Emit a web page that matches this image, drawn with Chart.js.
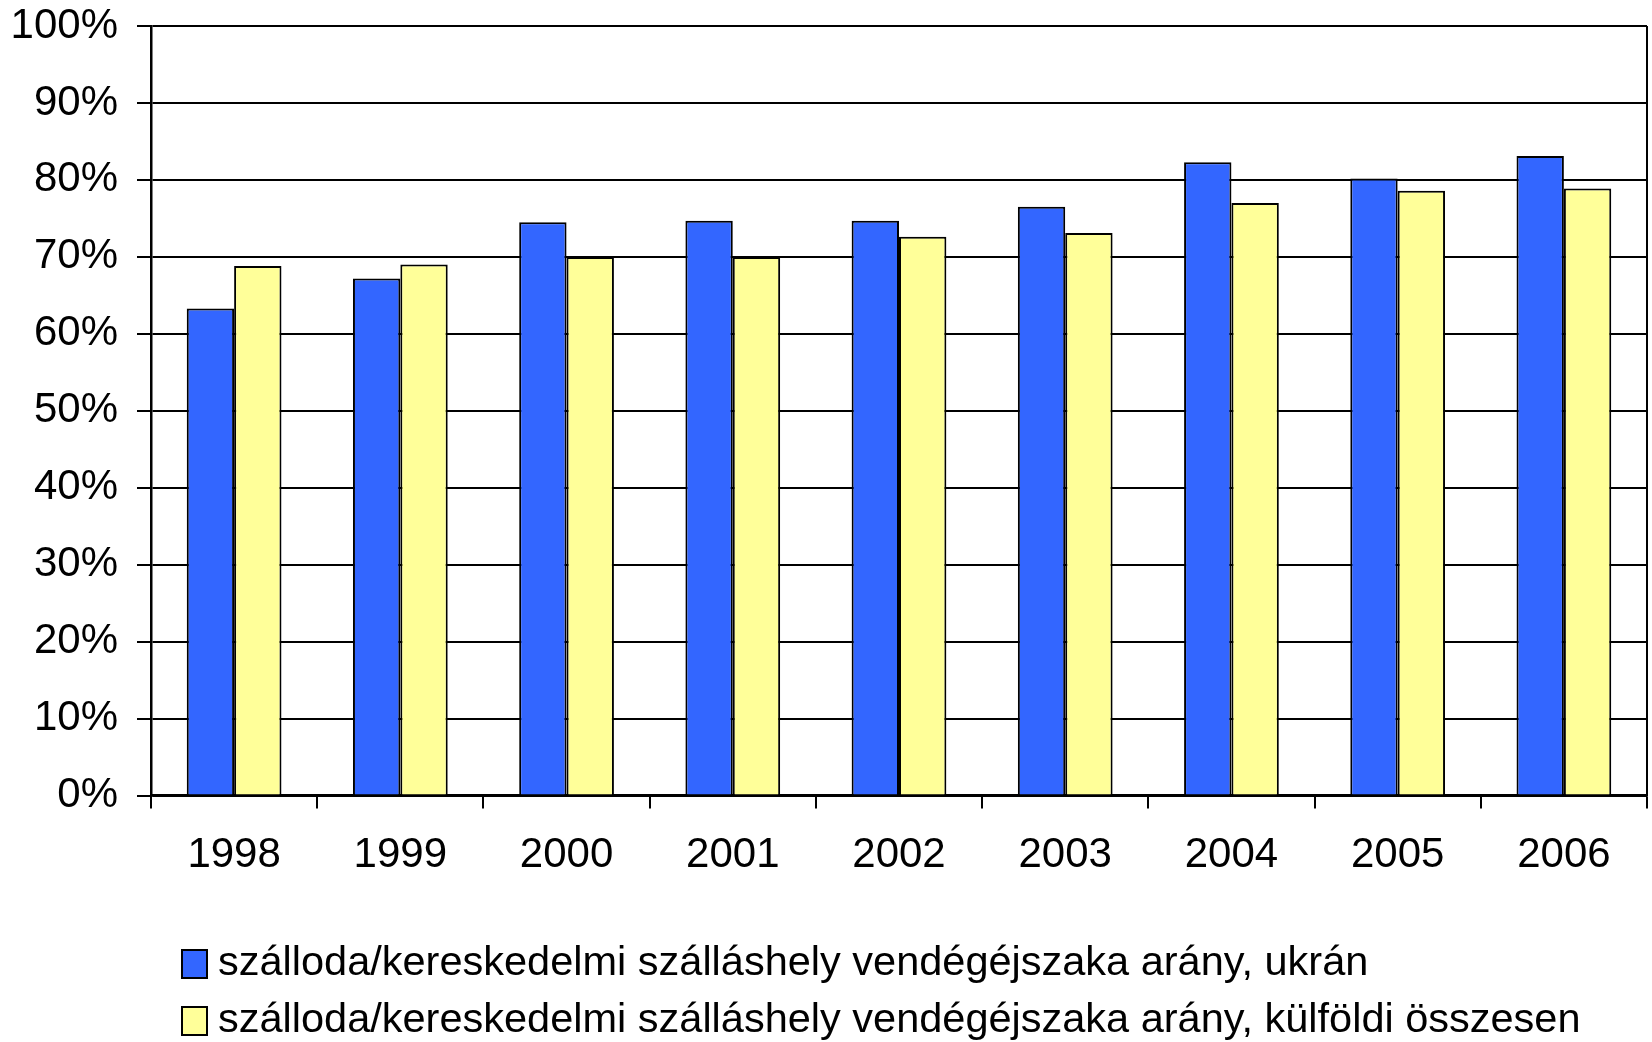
<!DOCTYPE html>
<html>
<head>
<meta charset="utf-8">
<script src="https://cdn.jsdelivr.net/npm/chart.js@4.4.1/dist/chart.umd.min.js"></script>
<style>
  html, body { margin: 0; padding: 0; background: #fff; }
  #wrap { width: 1652px; height: 1042px; }
</style>
</head>
<body>
<div id="wrap"><canvas id="chart" width="1652" height="1042"></canvas></div>
<script>
// years on the x axis
const years = ["1998", "1999", "2000", "2001", "2002", "2003", "2004", "2005", "2006"];
// share of hotel guest nights, %
const ukranValues = [63.3, 67.2, 74.5, 74.7, 74.7, 76.5, 82.3, 80.2, 83.1];
const kulfoldiValues = [68.8, 69.0, 70.0, 70.0, 72.6, 73.1, 77.0, 78.6, 78.9];
const seriesLabels = [
    "szálloda/kereskedelmi szálláshely vendégéjszaka arány, ukrán",
    "szálloda/kereskedelmi szálláshely vendégéjszaka arány, külföldi összesen"
];

const fontFamily = "'Liberation Sans', Arial, sans-serif";

// right frame line + legend with both rows left aligned
const framePlugin = {
    id: "frame",
    afterDraw(chart) {
        const ctx = chart.ctx;
        const area = chart.chartArea;
        ctx.save();
        ctx.strokeStyle = "#000";
        ctx.lineWidth = 2;
        ctx.beginPath();
        ctx.moveTo(area.right, area.top);
        ctx.lineTo(area.right, area.bottom);
        ctx.stroke();

        const boxX = area.left + 31;
        const rowY = [964, 1021];
        ctx.font = "41.5px " + fontFamily;
        ctx.textBaseline = "middle";
        chart.data.datasets.forEach((ds, i) => {
            ctx.fillStyle = ds.backgroundColor;
            ctx.fillRect(boxX, rowY[i] - 14, 25, 28);
            ctx.strokeStyle = "#000";
            ctx.lineWidth = 2;
            ctx.strokeRect(boxX, rowY[i] - 14, 25, 28);
            ctx.fillStyle = "#000";
            ctx.fillText(ds.label, boxX + 36, rowY[i]);
        });
        ctx.restore();
    }
};

const ctx = document.getElementById("chart").getContext("2d");
new Chart(ctx, {
    type: "bar",
    data: {
        labels: years,
        datasets: [{
            label: seriesLabels[0],
            data: ukranValues,
            backgroundColor: "#3366FF",
            borderColor: "#000",
            borderWidth: 2,
            categoryPercentage: 0.57,
            barPercentage: 1.0
        }, {
            label: seriesLabels[1],
            data: kulfoldiValues,
            backgroundColor: "#FFFF99",
            borderColor: "#000",
            borderWidth: 2,
            categoryPercentage: 0.57,
            barPercentage: 1.0
        }]
    },
    options: {
        responsive: false,
        animation: false,
        layout: { padding: { top: 26, right: 5, bottom: 139, left: 0 } },
        plugins: {
            legend: { display: false },
            tooltip: { enabled: false }
        },
        scales: {
            x: {
                grid: {
                    offset: true,
                    drawOnChartArea: false,
                    drawTicks: true,
                    tickLength: 13,
                    color: "#000",
                    lineWidth: 2
                },
                border: { color: "#000", width: 2.5 },
                ticks: {
                    color: "#000",
                    padding: 22,
                    maxRotation: 0,
                    font: { family: fontFamily, size: 42 }
                }
            },
            y: {
                min: 0,
                max: 100,
                afterFit(scale) {
                    scale.width = 151;
                    scale.paddingTop = 0;
                    scale.paddingBottom = 0;
                },
                grid: {
                    color: "#000",
                    lineWidth: 2,
                    tickLength: 14
                },
                border: { color: "#000", width: 2.5 },
                ticks: {
                    stepSize: 10,
                    color: "#000",
                    padding: 19,
                    font: { family: fontFamily, size: 42 },
                    callback: v => v + "%"
                }
            }
        }
    },
    plugins: [framePlugin]
});
</script>
</body>
</html>
